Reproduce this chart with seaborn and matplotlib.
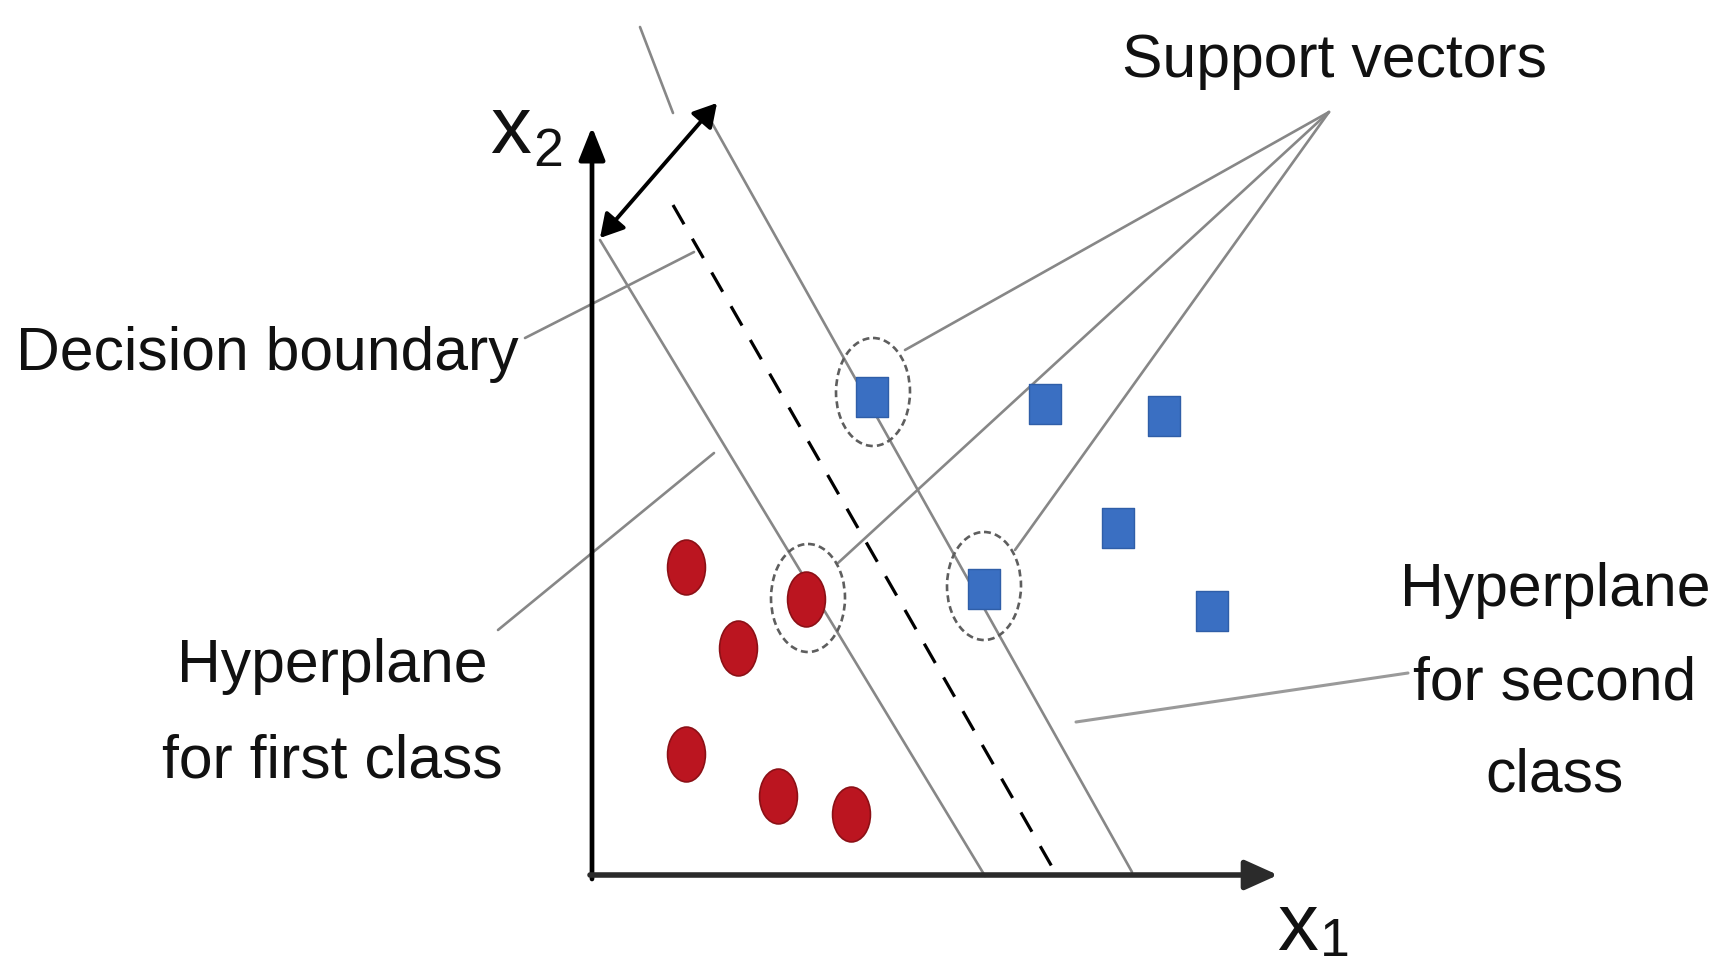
import matplotlib
matplotlib.use('Agg')
import matplotlib.pyplot as plt
import seaborn as sns
import numpy as np
import pandas as pd
from matplotlib.path import Path
from matplotlib.patches import Ellipse
from matplotlib.transforms import Affine2D
from matplotlib import font_manager

# data (pixel-like coordinates, y grows downwards)
red_x = [686, 806, 738, 686, 778, 851]
red_y = [567, 599, 648, 754, 796, 814]
blue_x = [872, 1045, 1164, 1118, 1212, 984]
blue_y = [397, 404, 416, 528, 611, 589]
sv_x = [873, 808, 984]
sv_y = [392, 598, 586]

hyper_first_x, hyper_first_y = [600, 985], [240, 876]
boundary_x, boundary_y = [673, 1055], [205, 872]
hyper_second_x, hyper_second_y = [712, 1132], [123, 872]
top_seg_x, top_seg_y = [640, 673], [27, 113]

sv_label = 'Support vectors'
sv_src = (1329, 112)
db_label = 'Decision boundary'
first_label = ['Hyperplane', 'for first class']
second_label = ['Hyperplane', 'for second', 'class']

sns.set_theme(style='white')
plt.rcParams['lines.scale_dashes'] = False

names = {f.name for f in font_manager.fontManager.ttflist}
if 'Liberation Sans Narrow' in names:
    FONT, K = 'Liberation Sans Narrow', 1.0
else:
    FONT, K = 'Liberation Sans', 0.84
plt.rcParams['font.family'] = [FONT, 'DejaVu Sans']

fig = plt.figure(figsize=(17.2, 9.66), dpi=100)
ax = fig.add_axes([0, 0, 1, 1])

GREY = '#878787'

# hyperplanes and decision boundary
ax.plot(hyper_first_x, hyper_first_y, color=GREY, lw=1.9)
ax.plot(hyper_second_x, hyper_second_y, color=GREY, lw=1.9)
ax.plot(top_seg_x, top_seg_y, color=GREY, lw=1.9)
ax.plot(boundary_x, boundary_y, color='black', lw=2.3, linestyle=(0, (16, 12)))

# pointer lines
ax.plot([525, 694], [338, 252], color=GREY, lw=1.9)
ax.plot([498, 714], [630, 453], color=GREY, lw=1.9)
ax.plot([1408, 1076], [673, 722], color='#9a9a9a', lw=2.2)
for tx, ty in [(905, 350), (838, 563), (1015, 550)]:
    ax.plot([sv_src[0], tx], [sv_src[1], ty], color=GREY, lw=1.9)

# axes arrows
ax.annotate('', xy=(592, 127), xytext=(592, 879),
            arrowprops=dict(arrowstyle='-|>,head_length=1.0,head_width=0.4',
                            mutation_scale=20, lw=3.4, color='black',
                            shrinkA=0, shrinkB=0))
ax.annotate('', xy=(1278, 875), xytext=(590, 875),
            arrowprops=dict(arrowstyle='-|>,head_length=1.0,head_width=0.45',
                            mutation_scale=20, lw=4.0, color='#2b2b2b',
                            shrinkA=0, shrinkB=0))
# margin arrow
ax.annotate('', xy=(717, 103), xytext=(600, 238),
            arrowprops=dict(arrowstyle='<|-|>,head_length=0.7,head_width=0.4',
                            mutation_scale=20, lw=2.8, color='black',
                            shrinkA=0, shrinkB=0))

# points
ell = Path.unit_circle().transformed(Affine2D().scale(0.69, 1.0))
sq = Path([(-0.8, -1), (0.8, -1), (0.8, 1), (-0.8, 1), (-0.8, -1)],
          [Path.MOVETO, Path.LINETO, Path.LINETO, Path.LINETO, Path.CLOSEPOLY])

red_df = pd.DataFrame({'x': red_x, 'y': red_y})
blue_df = pd.DataFrame({'x': blue_x, 'y': blue_y})
sns.scatterplot(data=red_df, x='x', y='y', marker=ell, s=1560, color='#bb1520',
                edgecolor='#8c1016', linewidth=1.2, ax=ax, legend=False, zorder=5)
sns.scatterplot(data=blue_df, x='x', y='y', marker=sq, s=820, color='#3a6fc2',
                edgecolor='#2f5ea8', linewidth=1.0, ax=ax, legend=False, zorder=5)
ax.set_xlim(0, 1720)
ax.set_ylim(966, 0)
ax.axis('off')

# dashed circles around support vectors
for cx, cy in zip(sv_x, sv_y):
    ax.add_patch(Ellipse((cx, cy), 74, 108, fill=False, edgecolor='#5e5e5e',
                         lw=1.9, linestyle=(0, (5, 3)), zorder=6))

# labels
fs = 52 * K
ax.text(1122, 77, sv_label, fontsize=fs, ha='left', va='baseline', color='#111111')
ax.text(16, 370, db_label, fontsize=fs, ha='left', va='baseline', color='#111111')
for line, base in zip(first_label, [682, 778]):
    ax.text(332, base, line, fontsize=fs, ha='center', va='baseline', color='#111111')
for line, base in zip(second_label, [606, 699, 792]):
    ax.text(1555, base, line, fontsize=fs, ha='center', va='baseline', color='#111111')

ax.text(490, 153, 'x', fontsize=70 * K, ha='left', va='baseline', color='#111111')
ax.text(533, 166, '2', fontsize=46 * K, ha='left', va='baseline', color='#111111')
ax.text(1277, 950, 'x', fontsize=70 * K, ha='left', va='baseline', color='#111111')
ax.text(1320, 956, '1', fontsize=46 * K, ha='left', va='baseline', color='#111111')

fig.savefig('out.png', dpi=100, facecolor='white')
